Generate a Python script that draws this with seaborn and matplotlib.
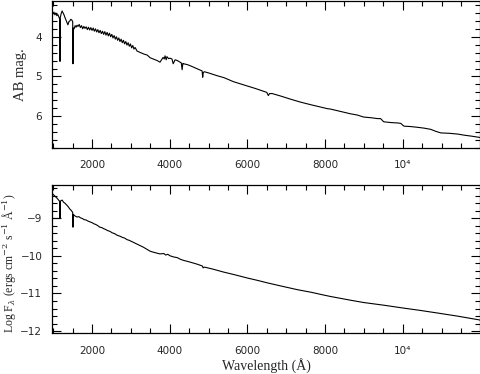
"""Two-panel stellar spectrum: AB magnitude and log flux versus wavelength."""

import matplotlib
matplotlib.use("Agg")
import matplotlib.pyplot as plt
from matplotlib.ticker import MultipleLocator, FuncFormatter
import seaborn as sns

# --- data ------------------------------------------------------------------
# top panel: AB magnitude
wave_mag = [970, 995, 1020, 1045, 1070, 1095, 1120, 1145, 1168, 1175, 1182,
            1205, 1230, 1255, 1280, 1305, 1330, 1355, 1380, 1405, 1430, 1455,
            1480, 1503, 1510, 1517, 1540, 1565, 1590, 1615, 1640, 1670, 1700,
            1730, 1760, 1790, 1820, 1850, 1880, 1910, 1940, 1970, 2000, 2030,
            2060, 2090, 2120, 2150, 2180, 2210, 2240, 2270, 2300, 2330, 2360,
            2390, 2420, 2450, 2480, 2510, 2540, 2570, 2600, 2630, 2660, 2690,
            2720, 2750, 2780, 2810, 2840, 2870, 2900, 2930, 2960, 2990, 3020,
            3050, 3080, 3110, 3160, 3250, 3350, 3420, 3500, 3580, 3680, 3750,
            3790, 3830, 3860, 3880, 3910, 3930, 3970, 4010, 4060, 4090, 4140,
            4200, 4270, 4300, 4320, 4340, 4360, 4450, 4530, 4650, 4790, 4835,
            4850, 4865, 4890, 5000, 5220, 5400, 5640, 5800, 6000, 6200, 6410,
            6500, 6540, 6570, 6640, 6850, 7110, 7350, 7630, 7850, 8060, 8140,
            8400, 8660, 8830, 8990, 9200, 9350, 9430, 9510, 9700, 9870, 9950,
            10030, 10200, 10390, 10550, 10720, 10850, 10980, 11200, 11420,
            11600, 11760, 11960, 12000]
ab_mag = [3.48, 3.42, 3.38, 3.45, 3.40, 3.47, 3.44, 3.50, 3.55, 4.62, 3.52,
          3.42, 3.35, 3.40, 3.45, 3.52, 3.58, 3.64, 3.70, 3.62, 3.60, 3.56,
          3.58, 3.62, 4.68, 3.78, 3.80, 3.72, 3.76, 3.71, 3.74, 3.69, 3.77,
          3.72, 3.80, 3.74, 3.79, 3.75, 3.82, 3.76, 3.83, 3.77, 3.84, 3.78,
          3.86, 3.80, 3.88, 3.82, 3.90, 3.84, 3.92, 3.86, 3.94, 3.87, 3.96,
          3.89, 3.98, 3.91, 4.00, 3.94, 4.03, 3.97, 4.06, 4.00, 4.09, 4.03,
          4.12, 4.06, 4.15, 4.09, 4.18, 4.12, 4.21, 4.15, 4.24, 4.18, 4.28,
          4.22, 4.31, 4.27, 4.36, 4.40, 4.44, 4.46, 4.53, 4.56, 4.60, 4.64,
          4.58, 4.52, 4.56, 4.48, 4.58, 4.50, 4.55, 4.54, 4.56, 4.68, 4.58,
          4.60, 4.64, 4.66, 4.83, 4.67, 4.68, 4.70, 4.73, 4.78, 4.84, 4.86,
          5.02, 4.90, 4.88, 4.91, 4.98, 5.03, 5.13, 5.18, 5.24, 5.30, 5.37,
          5.40, 5.48, 5.43, 5.43, 5.49, 5.57, 5.64, 5.71, 5.76, 5.81, 5.82,
          5.88, 5.94, 5.97, 6.02, 6.04, 6.06, 6.06, 6.14, 6.16, 6.17, 6.18,
          6.25, 6.26, 6.28, 6.30, 6.33, 6.38, 6.42, 6.43, 6.45, 6.48, 6.50,
          6.53, 6.54]

# bottom panel: log flux
wave_flux = [970, 1010, 1050, 1100, 1140, 1170, 1175, 1180, 1230, 1270,
             1300, 1355, 1390, 1430, 1470, 1503, 1510, 1517, 1560, 1610,
             1660, 1700, 1750, 1800, 1850, 1900, 1950, 2000, 2050, 2100,
             2150, 2200, 2250, 2300, 2350, 2400, 2460, 2520, 2580, 2640,
             2720, 2780, 2840, 2900, 2960, 3060, 3120, 3320, 3500, 3600,
             3750, 3850, 3900, 3950, 4010, 4100, 4200, 4270, 4350, 4500,
             4700, 4840, 4861, 4890, 5100, 5380, 5700, 6000, 6250, 6520,
             6900, 7290, 7650, 8000, 8140, 8660, 8990, 9500, 10030, 10450,
             10900, 11400, 11960, 12000]
log_flux = [-8.34, -8.38, -8.42, -8.47, -8.52, -8.56, -9.00, -8.55, -8.52,
            -8.58, -8.60, -8.66, -8.70, -8.76, -8.80, -8.85, -9.24, -8.90,
            -8.94, -8.97, -8.96, -8.99, -9.01, -9.04, -9.05, -9.08, -9.10,
            -9.12, -9.15, -9.17, -9.20, -9.24, -9.25, -9.28, -9.30, -9.33,
            -9.35, -9.39, -9.41, -9.45, -9.48, -9.51, -9.53, -9.57, -9.59,
            -9.64, -9.67, -9.77, -9.88, -9.91, -9.95, -9.94, -9.98, -9.96,
            -10.00, -10.03, -10.05, -10.09, -10.12, -10.16, -10.22, -10.27,
            -10.32, -10.30, -10.35, -10.43, -10.51, -10.59, -10.65, -10.72,
            -10.81, -10.90, -10.97, -11.05, -11.08, -11.18, -11.24, -11.31,
            -11.39, -11.45, -11.52, -11.60, -11.70, -11.71]

# the flat floor drawn under the first absorption line
floor_wave = [960, 1175]
floor_flux = [-9.0, -9.0]

# --- figure ----------------------------------------------------------------
sns.set_style("ticks")
plt.rcParams["font.family"] = ["DejaVu Sans"]
plt.rcParams["mathtext.fontset"] = "dejavuserif"

fig = plt.figure(figsize=(4.81, 3.74), dpi=100)
ax_top = fig.add_axes([52 / 481, 1 - 148 / 374, 428 / 481, 147 / 374])
ax_bot = fig.add_axes([52 / 481, 1 - 333 / 374, 428 / 481, 148 / 374])

line_kw = dict(color="black", linewidth=0.8, estimator=None, sort=False,
               legend=False)
sns.lineplot(x=wave_mag, y=ab_mag, ax=ax_top, **line_kw)
sns.lineplot(x=wave_flux, y=log_flux, ax=ax_bot, **line_kw)
sns.lineplot(x=floor_wave, y=floor_flux, ax=ax_bot, **line_kw)


def wave_fmt(v, _pos):
    if abs(v - 10000) < 1:
        return "10\u2074"
    return f"{int(v)}"


label_font = dict(family="Liberation Serif", size=10.5)

for ax in (ax_top, ax_bot):
    ax.set_xlim(970, 11990)
    ax.xaxis.set_major_locator(MultipleLocator(2000))
    ax.xaxis.set_minor_locator(MultipleLocator(500))
    ax.xaxis.set_major_formatter(FuncFormatter(wave_fmt))
    ax.yaxis.set_minor_locator(MultipleLocator(0.2))
    ax.tick_params(which="both", direction="in", top=True, right=True,
                   width=0.8, color="black", labelsize=7.5)
    ax.tick_params(which="major", length=6.5)
    ax.tick_params(which="minor", length=3.5)
    ax.tick_params(axis="x", pad=9)
    ax.tick_params(axis="y", pad=7)
    for side in ax.spines.values():
        side.set_linewidth(0.9)
        side.set_color("black")
    ax.set_xlabel("")

ax_top.set_ylim(6.8, 3.1)
ax_top.yaxis.set_major_locator(MultipleLocator(1))
ax_top.set_ylabel("AB mag.", fontdict=label_font)
ax_top.yaxis.set_label_coords(-0.058, 0.5)

ax_bot.set_ylim(-12.05, -8.12)
ax_bot.yaxis.set_major_locator(MultipleLocator(1))
ax_bot.set_ylabel(r"Log F$_\lambda$ (ergs cm$^{-2}$ s$^{-1}$ Å$^{-1}$)",
                  fontdict=dict(family="Liberation Serif", size=8.5))
ax_bot.yaxis.set_label_coords(-0.078, 0.47)
ax_bot.set_xlabel("Wavelength (Å)", fontdict=dict(family="Liberation Serif",
                                                   size=10))
ax_bot.xaxis.set_label_coords(0.5, -0.17)

plt.savefig("out.png", dpi=100)
plt.close()
